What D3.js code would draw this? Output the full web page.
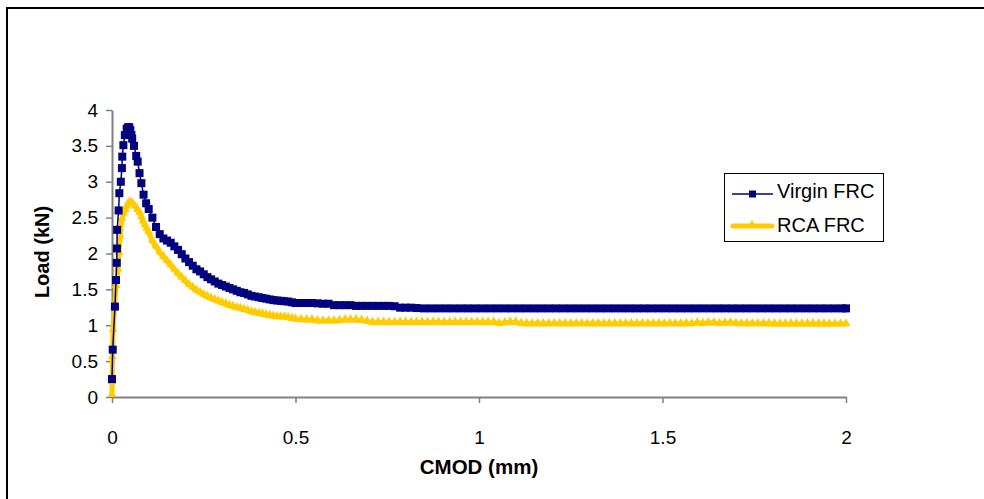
<!DOCTYPE html>
<html><head><meta charset="utf-8">
<script src="https://cdn.jsdelivr.net/npm/d3@7"></script>
<style>body{margin:0;background:#fff}svg{display:block}text{font-family:Arial,"Liberation Sans",sans-serif}</style>
</head><body>
<svg id="c" width="984" height="499"></svg>
<script>
// ---- data ----
const seriesNames = ["Virgin FRC", "RCA FRC"];
const xTicks = [0, 0.5, 1, 1.5, 2];
const yTicks = [0, 0.5, 1, 1.5, 2, 2.5, 3, 3.5, 4];
const xTickLabels = ["0", "0.5", "1", "1.5", "2"];
const yTickLabels = ["0", "0.5", "1", "1.5", "2", "2.5", "3", "3.5", "4"];

const virginFRC = [
 [0,0.25],[0.002,0.66],[0.008,1.26],[0.011,1.63],[0.013,1.87],[0.0135,2.07],[0.014,2.33],
 [0.018,2.60],[0.020,2.84],[0.024,3.00],[0.027,3.19],[0.028,3.35],[0.031,3.51],[0.035,3.65],
 [0.040,3.74],[0.044,3.76],[0.047,3.76],[0.050,3.72],[0.053,3.65],[0.055,3.60],[0.060,3.50],
 [0.066,3.36],[0.070,3.28],[0.075,3.12],[0.080,2.98],[0.086,2.82],[0.093,2.70],
 [0.10,2.62],[0.11,2.50],[0.12,2.37],[0.13,2.27],[0.14,2.21],[0.15,2.18],[0.16,2.15],[0.17,2.10],
 [0.18,2.05],[0.19,1.99],[0.20,1.93],[0.21,1.88],[0.22,1.83],[0.23,1.78],[0.24,1.75],[0.25,1.71],
 [0.26,1.67],[0.27,1.64],[0.28,1.61],[0.29,1.58],[0.30,1.56],[0.31,1.54],[0.32,1.52],[0.33,1.50],
 [0.34,1.48],[0.35,1.46],[0.36,1.45],[0.37,1.43],[0.38,1.41],[0.39,1.40],[0.40,1.39],[0.41,1.38],
 [0.42,1.37],[0.43,1.36],[0.44,1.35],[0.45,1.345],[0.46,1.34],[0.47,1.335],[0.48,1.33],[0.49,1.32],
 [0.50,1.31],[0.515,1.31],[0.53,1.31],[0.545,1.31],[0.56,1.305],[0.575,1.30],[0.59,1.30],[0.605,1.28],
 [0.62,1.28],[0.635,1.28],[0.65,1.28],[0.665,1.27],[0.68,1.27],[0.695,1.27],[0.71,1.27],[0.725,1.27],
 [0.74,1.27],[0.755,1.27],[0.77,1.265],[0.785,1.245],[0.80,1.245],[0.815,1.245],[0.83,1.24],
 [0.85,1.235],[0.87,1.235],[0.89,1.235],[0.91,1.235],[0.93,1.235],[0.95,1.235],
 [0.97,1.235],[0.99,1.235],[1.01,1.235],[1.03,1.235],[1.05,1.235],[1.07,1.235],[1.09,1.235],
 [1.11,1.235],[1.13,1.235],[1.15,1.235],[1.17,1.235],[1.19,1.235],[1.21,1.235],[1.23,1.235],
 [1.25,1.235],[1.27,1.235],[1.29,1.235],[1.31,1.235],[1.33,1.235],[1.35,1.235],[1.37,1.235],
 [1.39,1.235],[1.41,1.235],[1.43,1.235],[1.45,1.235],[1.47,1.235],[1.49,1.235],[1.51,1.235],
 [1.53,1.235],[1.55,1.235],[1.57,1.235],[1.59,1.235],[1.61,1.235],[1.63,1.235],[1.65,1.235],
 [1.67,1.235],[1.69,1.235],[1.71,1.235],[1.73,1.235],[1.75,1.235],[1.77,1.235],[1.79,1.235],
 [1.81,1.235],[1.83,1.235],[1.85,1.235],[1.87,1.235],[1.89,1.235],[1.91,1.235],[1.93,1.235],
 [1.95,1.235],[1.97,1.235],[1.99,1.235],[2.00,1.235]
];

const rcaFRC = [
 [0,0.02],[0.0005,0.20],[0.001,0.55],[0.003,0.93],[0.007,1.26],[0.011,1.54],[0.016,1.77],
 [0.019,2.00],[0.022,2.23],[0.027,2.47],[0.031,2.55],[0.036,2.60],[0.040,2.65],[0.045,2.70],
 [0.050,2.71],[0.056,2.69],[0.063,2.65],[0.070,2.60],[0.076,2.56],[0.080,2.50],[0.085,2.44],
 [0.090,2.39],[0.095,2.34],
 [0.10,2.29],[0.11,2.17],[0.12,2.09],[0.13,2.01],[0.14,1.95],[0.15,1.89],[0.16,1.83],[0.17,1.77],
 [0.18,1.71],[0.19,1.66],[0.20,1.61],[0.21,1.56],[0.22,1.52],[0.23,1.48],[0.24,1.45],[0.25,1.42],
 [0.26,1.395],[0.27,1.37],[0.28,1.35],[0.29,1.33],[0.30,1.31],[0.31,1.29],[0.32,1.27],[0.33,1.255],
 [0.34,1.24],[0.35,1.23],[0.36,1.215],[0.37,1.20],[0.38,1.18],[0.39,1.17],[0.40,1.16],[0.41,1.15],
 [0.42,1.14],[0.43,1.13],[0.44,1.12],[0.45,1.115],[0.46,1.11],[0.47,1.11],[0.48,1.10],[0.49,1.09],
 [0.50,1.08],[0.515,1.075],[0.53,1.07],[0.545,1.07],[0.56,1.055],[0.575,1.055],[0.59,1.055],[0.605,1.055],
 [0.62,1.06],[0.635,1.07],[0.65,1.07],[0.665,1.07],[0.68,1.065],[0.695,1.05],[0.71,1.035],
 [0.725,1.035],[0.74,1.035],[0.755,1.035],[0.77,1.035],[0.785,1.035],[0.80,1.035],
 [0.815,1.035],[0.83,1.035],[0.845,1.035],[0.86,1.035],[0.875,1.035],[0.89,1.035],[0.905,1.035],
 [0.92,1.035],[0.935,1.035],[0.95,1.035],[0.965,1.035],[0.98,1.035],[0.995,1.035],[1.01,1.035],
 [1.025,1.035],[1.04,1.035],[1.055,1.02],[1.07,1.03],[1.085,1.04],[1.10,1.04],[1.115,1.02],
 [1.13,1.017],[1.145,1.017],[1.16,1.017],[1.175,1.017],[1.19,1.017],[1.205,1.017],[1.22,1.017],
 [1.235,1.017],[1.25,1.017],[1.265,1.017],[1.28,1.017],[1.295,1.017],[1.31,1.017],[1.325,1.017],
 [1.34,1.017],[1.355,1.017],[1.37,1.017],[1.385,1.017],[1.40,1.017],[1.415,1.017],[1.43,1.017],
 [1.445,1.017],[1.46,1.017],[1.475,1.017],[1.49,1.017],[1.505,1.017],[1.52,1.017],[1.535,1.017],
 [1.55,1.017],[1.565,1.017],[1.58,1.017],[1.595,1.03],[1.61,1.02],[1.625,1.03],[1.64,1.03],
 [1.655,1.02],[1.67,1.025],[1.685,1.03],[1.70,1.02],[1.715,1.017],[1.73,1.017],[1.745,1.017],
 [1.76,1.017],[1.775,1.017],[1.79,1.017],[1.805,1.015],[1.82,1.015],[1.835,1.015],[1.85,1.015],
 [1.865,1.015],[1.88,1.015],[1.895,1.015],[1.91,1.015],[1.925,1.015],[1.94,1.015],[1.955,1.013],
 [1.97,1.013],[1.985,1.013],[2.00,1.013]
];

// ---- drawing ----
const svg = d3.select("#c");
const NAVY = "#000080", GOLD = "#FFCC00", AXIS = "#808080";
const x = d3.scaleLinear().domain([0, 2]).range([112, 846]);
const y = d3.scaleLinear().domain([0, 4]).range([397, 110]);

// outer frame (cropped chart area border)
svg.append("path").attr("d", "M7,499V8H984").attr("fill", "none")
   .attr("stroke", "#000").attr("stroke-width", 2);

// axes
const xAxis = svg.append("g").attr("transform", "translate(0,397)")
  .call(d3.axisBottom(x).tickValues(xTicks).tickFormat((d, i) => xTickLabels[i]).tickSizeOuter(0).tickSizeInner(6).tickPadding(28));
const yAxis = svg.append("g").attr("transform", "translate(112,0)")
  .call(d3.axisLeft(y).tickValues(yTicks).tickFormat((d, i) => yTickLabels[i]).tickSizeOuter(0).tickSizeInner(6).tickPadding(8));
[xAxis, yAxis].forEach(g => {
  g.select(".domain").attr("stroke", AXIS).attr("stroke-width", 2);
  g.selectAll(".tick line").attr("stroke", AXIS).attr("stroke-width", 1.5);
  g.selectAll(".tick text").attr("fill", "#000").style("font-size", "19px").style("font-family", "Arial, 'Liberation Sans', sans-serif");
});

// axis titles
svg.append("text").attr("x", 479).attr("y", 474).attr("text-anchor", "middle")
  .style("font-size", "20.5px").style("font-weight", "bold").text("CMOD (mm)");
svg.append("text").attr("transform", "translate(49,252) rotate(-90)").attr("text-anchor", "middle")
  .style("font-size", "20px").style("font-weight", "bold").text("Load (kN)");

const line = d3.line().x(d => x(d[0])).y(d => y(d[1]));
const tri = d3.symbol().type(d3.symbolTriangle).size(34);

// RCA FRC (gold)
svg.append("path").datum(rcaFRC).attr("d", line).attr("fill", "none")
  .attr("stroke", GOLD).attr("stroke-width", 5).attr("stroke-linejoin", "round");
svg.append("g").selectAll("path").data(rcaFRC).join("path")
  .attr("d", tri).attr("transform", d => `translate(${x(d[0])},${y(d[1]) - 1})`).attr("fill", GOLD);

// Virgin FRC (navy)
svg.append("path").datum(virginFRC).attr("d", line).attr("fill", "none")
  .attr("stroke", NAVY).attr("stroke-width", 1.5);
svg.append("g").selectAll("rect").data(virginFRC).join("rect")
  .attr("x", d => x(d[0]) - 4).attr("y", d => y(d[1]) - 4)
  .attr("width", 8).attr("height", 8).attr("fill", NAVY);

// legend
const lg = svg.append("g");
lg.append("rect").attr("x", 724.5).attr("y", 173.5).attr("width", 159).attr("height", 68)
  .attr("fill", "#fff").attr("stroke", "#000").attr("stroke-width", 1);
lg.append("line").attr("x1", 732).attr("x2", 773).attr("y1", 194).attr("y2", 194)
  .attr("stroke", NAVY).attr("stroke-width", 1.5);
lg.append("rect").attr("x", 749).attr("y", 190.5).attr("width", 7).attr("height", 7).attr("fill", NAVY);
lg.append("line").attr("x1", 733).attr("x2", 772).attr("y1", 226).attr("y2", 226)
  .attr("stroke", GOLD).attr("stroke-width", 5).attr("stroke-linecap", "round");
lg.append("path").attr("d", d3.symbol().type(d3.symbolTriangle).size(20))
  .attr("transform", "translate(752,224)").attr("fill", GOLD);
lg.selectAll("text.lt").data(seriesNames).join("text").attr("class", "lt")
  .attr("x", 777).attr("y", (d, i) => 198 + i * 34)
  .style("font-size", "20px").text(d => d);
</script>
</body></html>
